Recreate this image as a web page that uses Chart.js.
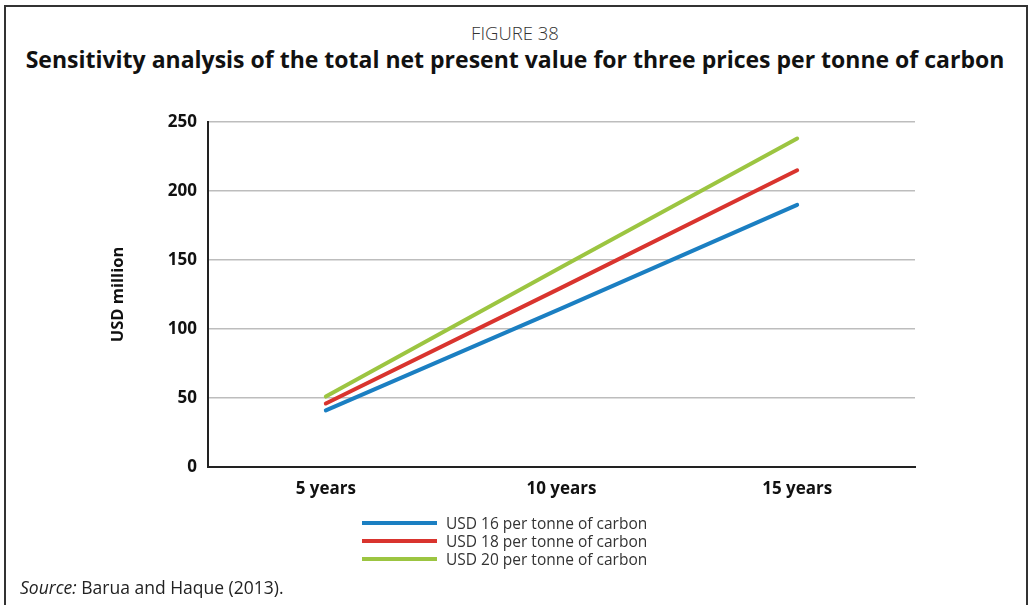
<!DOCTYPE html>
<html>
<head>
<meta charset="utf-8">
<script src="https://cdn.jsdelivr.net/npm/chart.js@4.4.0/dist/chart.umd.min.js"></script>
<style>
  html, body { margin: 0; padding: 0; background: #fff; }
  body { width: 1030px; height: 605px; position: relative; overflow: hidden; font-family: "Open Sans", "Noto Sans", sans-serif; color: #222; }
  #frame { position: absolute; left: 4px; top: 5px; width: 1024px; height: 640px; border: 2px solid #333; box-sizing: border-box; }
  #fig { position: absolute; left: 0; width: 1030px; top: 20px; text-align: center; font-size: 18.5px; font-weight: 300; color: #333; }
  #title { position: absolute; left: 0; width: 1030px; top: 43px; text-align: center; font-size: 23px; font-weight: 700; color: #111; white-space: nowrap; }
  #wrap { position: absolute; left: 0; top: 0; width: 1030px; height: 605px; }
  #legend { position: absolute; left: 362px; top: 514px; font-size: 15.5px; color: #333; }
  .row { height: 18px; display: flex; align-items: center; }
  .sw { width: 75px; height: 4px; margin-right: 9px; }
  #source { position: absolute; left: 20px; top: 575px; font-size: 17.5px; color: #222; }
</style>
</head>
<body>
<div id="frame"></div>
<div id="fig">FIGURE 38</div>
<div id="title">Sensitivity analysis of the total net present value for three prices per tonne of carbon</div>
<div id="wrap"><canvas id="chart" width="1030" height="605"></canvas></div>
<div id="legend"></div>
<div id="source"><i>Source:</i> Barua and Haque (2013).</div>
<script>
const categories = ["5 years", "10 years", "15 years"];
const seriesNames = ["USD 16 per tonne of carbon", "USD 18 per tonne of carbon", "USD 20 per tonne of carbon"];
const usd16 = [41, 115, 190];
const usd18 = [46, 130, 215];
const usd20 = [51, 145, 238];
const colors = ["#1b7fc2", "#d9342e", "#9cc541"];
const yTicks = [0, 50, 100, 150, 200, 250];

// legend as html, from the same arrays
let legend = document.getElementById("legend");
seriesNames.forEach((name, i) => {
  let row = document.createElement("div");
  row.className = "row";
  let sw = document.createElement("div");
  sw.className = "sw";
  sw.style.background = colors[i];
  let txt = document.createElement("span");
  txt.textContent = name;
  row.appendChild(sw);
  row.appendChild(txt);
  legend.appendChild(row);
});

const values = [usd16, usd18, usd20];
const tickFont = { family: "'Open Sans', sans-serif", size: 17, weight: "bold" };

let ctx = document.getElementById("chart");
let myChart = new Chart(ctx, {
  type: "line",
  data: {
    labels: categories,
    datasets: values.map((v, i) => ({
      label: seriesNames[i],
      data: v,
      borderColor: colors[i],
      backgroundColor: colors[i],
      borderWidth: 4,
      pointRadius: 0,
      borderCapStyle: "round",
      tension: 0,
    })),
  },
  options: {
    responsive: false,
    animation: false,
    layout: { padding: { left: 108, right: 115, top: 122, bottom: 0 } },
    plugins: { legend: { display: false }, title: { display: false }, tooltip: { enabled: false } },
    scales: {
      x: {
        offset: true,
        grid: { display: false, drawTicks: false },
        border: { display: true, color: "#222", width: 2 },
        ticks: { padding: 12, color: "#111", font: tickFont },
        afterFit: (scale) => { scale.height = 138; },
      },
      y: {
        min: 0,
        max: 250,
        afterBuildTicks: (scale) => { scale.ticks = yTicks.map((v) => ({ value: v })); },
        grid: {
          color: (c) => (c.tick && c.tick.value === 0 ? "rgba(0,0,0,0)" : "#bdbdbd"),
          lineWidth: 1.5,
          drawTicks: false,
        },
        border: { display: true, color: "#222", width: 2 },
        ticks: { padding: 11, color: "#111", font: tickFont },
        title: {
          display: true,
          text: "USD million",
          color: "#111",
          padding: 0,
          font: { family: "'Open Sans', sans-serif", size: 16.5, weight: "bold" },
        },
        afterFit: (scale) => { scale.width = 100; },
      },
    },
  },
});
</script>
</body>
</html>
